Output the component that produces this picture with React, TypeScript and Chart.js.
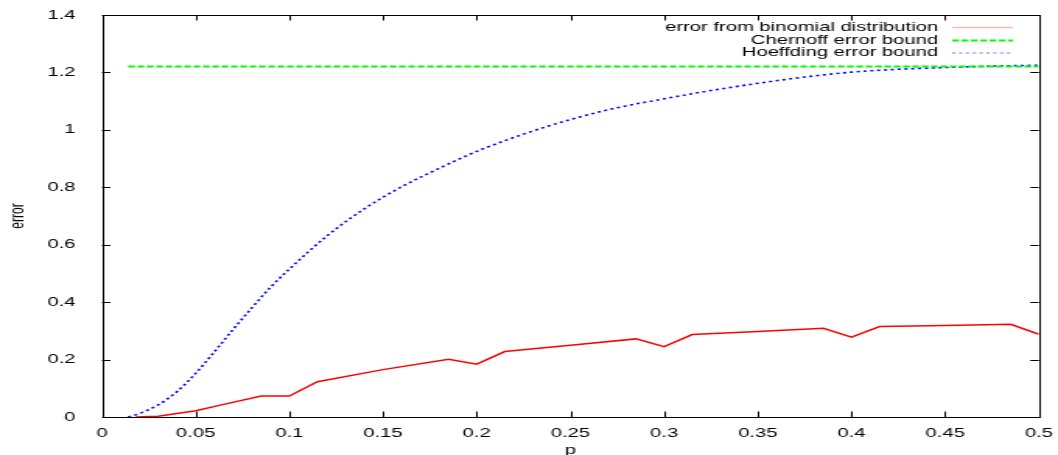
import React, { useEffect, useRef } from "react";
import { Chart, registerables } from "chart.js";

Chart.register(...registerables);

// ---- data ----
const redP = [0.018, 0.03, 0.05, 0.065, 0.085, 0.1, 0.115, 0.15, 0.185, 0.2, 0.215, 0.25, 0.285, 0.3, 0.315, 0.35, 0.385, 0.4, 0.415, 0.45, 0.485, 0.5];
const redErr = [0, 0.003, 0.022, 0.044, 0.073, 0.073, 0.123, 0.165, 0.201, 0.184, 0.228, 0.25, 0.272, 0.245, 0.287, 0.298, 0.309, 0.278, 0.315, 0.319, 0.323, 0.288];

const greenP = [0.014, 0.5];
const greenErr = [1.221, 1.221];

const blueP = [0.014, 0.02, 0.03, 0.04, 0.05, 0.06, 0.07, 0.08, 0.09, 0.1, 0.12, 0.14, 0.16, 0.18, 0.2, 0.225, 0.25, 0.275, 0.3, 0.325, 0.35, 0.375, 0.4, 0.425, 0.45, 0.475, 0.5];
const blueErr = [0, 0.012, 0.042, 0.088, 0.152, 0.227, 0.305, 0.38, 0.452, 0.515, 0.63, 0.725, 0.802, 0.866, 0.925, 0.985, 1.036, 1.077, 1.108, 1.137, 1.162, 1.184, 1.201, 1.211, 1.217, 1.222, 1.225];

const seriesLabels = ["error from binomial distribution", "Chernoff error bound", "Hoeffding error bound"];
const xTitle = "p";
const yTitle = "error";

// ---- layout (internal canvas px) ----
const W = 680;
const H = 455;
const FONT = "'Liberation Sans', Arial, Helvetica, sans-serif";

const toPts = (xs: number[], ys: number[]) => xs.map((x, i) => ({ x, y: ys[i] }));
const fmt = (v: any) => String(+Number(v).toFixed(4));

const framePlugin = {
  id: "gnuFrame",
  afterDraw(chart: any) {
    const { ctx, chartArea } = chart;
    const { left, right, top, bottom } = chartArea;
    const xs = chart.scales.x;
    const ys = chart.scales.y;
    const TL = 5.5;
    ctx.save();
    ctx.strokeStyle = "#000";
    ctx.lineWidth = 1;
    ctx.beginPath();
    xs.ticks.forEach((t: any) => {
      const px = Math.round(xs.getPixelForValue(t.value)) + 0.5;
      ctx.moveTo(px, bottom);
      ctx.lineTo(px, bottom - TL);
      ctx.moveTo(px, top);
      ctx.lineTo(px, top + TL);
    });
    ys.ticks.forEach((t: any) => {
      const py = Math.round(ys.getPixelForValue(t.value)) + 0.5;
      ctx.moveTo(left, py);
      ctx.lineTo(left + TL, py);
      ctx.moveTo(right, py);
      ctx.lineTo(right - TL, py);
    });
    ctx.stroke();
    ctx.strokeRect(Math.round(left) + 0.5, Math.round(top) + 0.5, Math.round(right - left), Math.round(bottom - top));

    // gnuplot-style legend (text right-aligned, sample to the right)
    const textRight = 603;
    const sx0 = 612;
    const sx1 = 651;
    const rows = [27, 40, 52.5];
    ctx.font = `13px ${FONT}`;
    ctx.fillStyle = "#000";
    ctx.textAlign = "right";
    ctx.textBaseline = "middle";
    chart.data.datasets.forEach((ds: any, i: number) => {
      const y = rows[i];
      ctx.fillText(ds.label, textRight, y);
      ctx.save();
      ctx.strokeStyle = ds.legendColor || ds.borderColor;
      ctx.lineWidth = ds.legendWidth || ds.borderWidth;
      ctx.setLineDash(ds.borderDash || []);
      ctx.beginPath();
      ctx.moveTo(sx0, y + 0.5);
      ctx.lineTo(sx1, y + 0.5);
      ctx.stroke();
      ctx.restore();
    });
    ctx.restore();
  },
};

export default function App() {
  const ref = useRef<HTMLCanvasElement>(null);

  useEffect(() => {
    document.body.style.margin = "0";
    const canvas = ref.current!;
    const chart = new Chart(canvas, {
      type: "line",
      data: {
        datasets: [
          {
            label: seriesLabels[0],
            data: toPts(redP, redErr),
            borderColor: "#ff0000",
            borderWidth: 1.5,
            pointRadius: 0,
            fill: false,
            tension: 0,
            legendColor: "#ffb4b4",
            legendWidth: 1.5,
          } as any,
          {
            label: seriesLabels[1],
            data: toPts(greenP, greenErr),
            borderColor: "#00ff00",
            borderWidth: 2,
            borderDash: [4.4, 1.6],
            pointRadius: 0,
            fill: false,
          } as any,
          {
            label: seriesLabels[2],
            data: toPts(blueP, blueErr),
            borderColor: "#0000ff",
            borderWidth: 1.6,
            borderDash: [2, 2.4],
            pointRadius: 0,
            fill: false,
            cubicInterpolationMode: "monotone",
            legendColor: "#9a9aff",
            legendWidth: 1.5,
          } as any,
        ],
      },
      options: {
        responsive: false,
        animation: false,
        devicePixelRatio: 1,
        events: [],
        layout: { padding: { top: 15, right: 12.3, left: 0, bottom: 0 } },
        plugins: {
          legend: { display: false },
          tooltip: { enabled: false },
        },
        scales: {
          x: {
            type: "linear",
            min: 0,
            max: 0.5,
            grid: { display: false },
            border: { display: false },
            ticks: {
              stepSize: 0.05,
              padding: 1,
              color: "#000",
              font: { family: FONT, size: 13 },
              maxRotation: 0,
              autoSkip: false,
              callback: (v: any) => fmt(v),
            },
            title: {
              display: true,
              text: xTitle,
              color: "#000",
              font: { family: FONT, size: 13 },
              padding: { top: 0, bottom: -3 },
            },
            afterFit: (s: any) => {
              s.height = 38;
              s.paddingLeft = 0;
              s.paddingRight = 0;
            },
          },
          y: {
            type: "linear",
            min: 0,
            max: 1.4,
            grid: { display: false },
            border: { display: false },
            ticks: {
              stepSize: 0.2,
              padding: 9,
              color: "#000",
              font: { family: FONT, size: 13 },
              autoSkip: false,
              callback: (v: any) => fmt(v),
            },
            title: {
              display: true,
              text: yTitle,
              color: "#000",
              font: { family: FONT, size: 12 },
              padding: { top: 4, bottom: 0 },
            },
            afterFit: (s: any) => {
              s.width = 65.5;
              s.paddingTop = 0;
              s.paddingBottom = 0;
            },
          },
        },
      },
      plugins: [framePlugin],
    });
    return () => chart.destroy();
  }, []);

  return (
    <div style={{ width: 1058, height: 455 }}>
      <canvas ref={ref} width={W} height={H} style={{ width: "1058px", height: "455px", display: "block" }} />
    </div>
  );
}
